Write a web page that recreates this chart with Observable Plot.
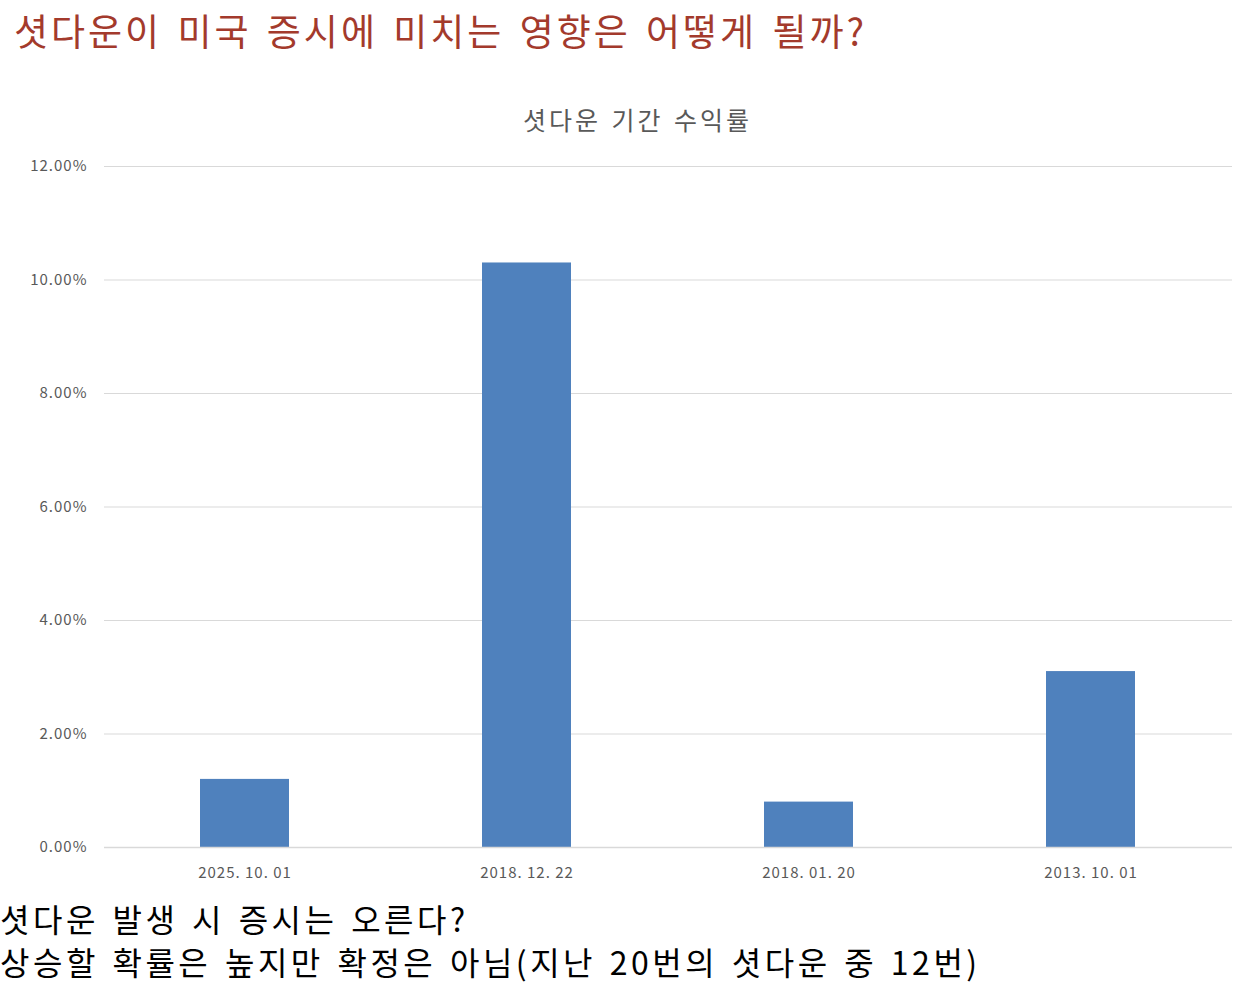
<!DOCTYPE html>
<html><head><meta charset="utf-8">
<script src="https://cdn.jsdelivr.net/npm/d3@7"></script>
<script src="https://cdn.jsdelivr.net/npm/@observablehq/plot@0.6"></script>
<style>
html,body{margin:0;padding:0;background:#fff;width:1236px;height:987px;overflow:hidden;font-family:"Noto Sans CJK KR","Noto Sans",sans-serif;}
#title{position:absolute;left:14px;top:4px;font-size:37px;color:#a33a2c;white-space:nowrap;line-height:52px;letter-spacing:3px;word-spacing:4px;}
#ctitle{position:absolute;left:0;width:1275px;top:101px;text-align:center;font-size:25px;color:#595959;line-height:36px;letter-spacing:3px;word-spacing:2px;}
#chart{position:absolute;left:0;top:140px;}
#foot{position:absolute;left:0;top:897px;font-size:32px;color:#000;line-height:43px;white-space:nowrap;letter-spacing:3.5px;word-spacing:3px;}
</style></head>
<body>
<div id="title"></div>
<div id="ctitle"></div>
<div id="chart"></div>
<div id="foot"></div>
<script>
const titleText = "셧다운이 미국 증시에 미치는 영향은 어떻게 될까?";
const chartTitle = "셧다운 기간 수익률";
const footLines = ["셧다운 발생 시 증시는 오른다?", "상승할 확률은 높지만 확정은 아님(지난 20번의 셧다운 중 12번)"];
const dates = ["2025. 10. 01", "2018. 12. 22", "2018. 01. 20", "2013. 10. 01"];
const returns = [1.2, 10.3, 0.8, 3.1];
const yTicks = [0, 2, 4, 6, 8, 10, 12];

document.getElementById("title").textContent = titleText;
document.getElementById("ctitle").textContent = chartTitle;
document.getElementById("foot").innerHTML = footLines.map(s => `<div>${s}</div>`).join("");

const data = dates.map((d, i) => ({date: d, value: returns[i]}));

const chart = Plot.plot({
  width: 1236,
  height: 755,
  marginTop: 26,
  marginBottom: 48,
  marginLeft: 104,
  marginRight: 4,
  style: {fontFamily: '"Noto Sans CJK KR", sans-serif', fontSize: "15px", color: "#595959", background: "#fff", letterSpacing: "1px"},
  x: {domain: dates, paddingInner: 0.684, paddingOuter: 0.342, label: null, tickSize: 0, tickPadding: 20},
  y: {domain: [0, 12], ticks: yTicks, tickFormat: d => d.toFixed(2) + "%", label: null, tickSize: 0, tickPadding: 17},
  marks: [
    Plot.gridY(yTicks, {stroke: "#d9d9d9", strokeOpacity: 1, strokeWidth: 1}),
    Plot.barY(data, {x: "date", y: "value", fill: "#4f81bd"}),
    Plot.ruleY([0], {stroke: "#d9d9d9", strokeWidth: 1.5})
  ]
});
document.getElementById("chart").appendChild(chart);
</script>
</body></html>
